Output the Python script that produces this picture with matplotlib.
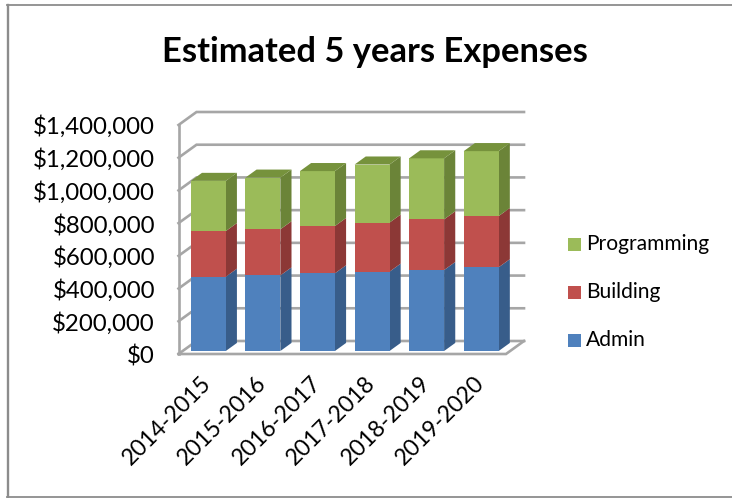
import matplotlib
matplotlib.use("Agg")
import matplotlib.pyplot as plt
from matplotlib.patches import Polygon
from matplotlib.transforms import ScaledTranslation

plt.rcParams["font.family"] = ["Lato", "DejaVu Sans"]

years = ["2014-2015", "2015-2016", "2016-2017", "2017-2018", "2018-2019", "2019-2020"]
admin = [454000, 462000, 475000, 485000, 495000, 512000]
building = [279000, 282000, 289000, 300000, 310000, 313000]
programming = [307000, 316000, 336000, 355000, 373000, 397000]
series_names = ["Admin", "Building", "Programming"]
y_ticks = [0, 200000, 400000, 600000, 800000, 1000000, 1200000, 1400000]

front_colors = ["#4f81bd", "#c0504d", "#9bbb59"]
side_colors = ["#385d8a", "#8c3836", "#6b8438"]
top_colors = ["#3f6797", "#9a403e", "#76923c"]
GRID = "#a6a6a6"

W, H = 732, 498
fig = plt.figure(figsize=(W / 100, H / 100), dpi=100)
fig.patch.set_facecolor("white")

# Chart frame: top and bottom edges, plus a heavier left edge
for y_px in (5.5, 497):
    fig.add_artist(plt.Line2D([7 / W, 1], [1 - y_px / H, 1 - y_px / H], color="#8c8c8c",
                              linewidth=1.3, transform=fig.transFigure))
fig.add_artist(plt.Line2D([8 / W, 8 / W], [1 - 5 / H, 1 - 497.5 / H], color="#8c8c8c",
                          linewidth=1.7, transform=fig.transFigure))

# Axes rectangle is the front plane of the pseudo-3D box
left, right, bottom, top = 178.5, 506.0, 354.0, 125.0
ax = fig.add_axes([left / W, 1 - bottom / H, (right - left) / W, (bottom - top) / H])
ax.set_xlim(0, len(years))
ax.set_ylim(0, 1400000)
ax.patch.set_alpha(0)
for s in ax.spines.values():
    s.set_visible(False)

px_x = len(years) / (right - left)
px_y = 1400000 / (bottom - top)
DEPTH_X, DEPTH_Y = 18 * px_x, 13 * px_y


def at_depth(x, y, d):
    return (x + d * DEPTH_X, y + d * DEPTH_Y)


# Walls and floor
lw = 1.9
for v in y_ticks:
    ax.plot(*zip(at_depth(0, v, 0), at_depth(0, v, 1), at_depth(len(years), v, 1)),
            color=GRID, lw=lw, clip_on=False, solid_joinstyle="miter", zorder=1)
ax.plot(*zip(at_depth(0, 0, 0), at_depth(0, 1400000, 0)), color=GRID, lw=lw, clip_on=False, zorder=1)
ax.plot(*zip(at_depth(0, 0, 0), at_depth(len(years), 0, 0), at_depth(len(years), 0, 1)),
        color=GRID, lw=lw, clip_on=False, solid_joinstyle="miter", zorder=1)

# Stacked prisms
BAR_START, BAR_W = 0.15, 0.64
D0, D1 = 0.23, 0.85
for i in range(len(years)):
    base = 0
    x0 = i + BAR_START
    x1 = x0 + BAR_W
    for k, values in enumerate([admin, building, programming]):
        t = base + values[i]
        ax.add_patch(Polygon([at_depth(x1, base, D0), at_depth(x1, base, D1),
                              at_depth(x1, t, D1), at_depth(x1, t, D0)],
                             facecolor=side_colors[k], edgecolor="none", clip_on=False, zorder=3))
        ax.add_patch(Polygon([at_depth(x0, base, D0), at_depth(x1, base, D0),
                              at_depth(x1, t, D0), at_depth(x0, t, D0)],
                             facecolor=front_colors[k], edgecolor="none", clip_on=False, zorder=3))
        base = t
    ax.add_patch(Polygon([at_depth(x0, base, D0), at_depth(x1, base, D0),
                          at_depth(x1, base, D1), at_depth(x0, base, D1)],
                         facecolor=top_colors[2], edgecolor="none", clip_on=False, zorder=3))

# Value axis labels
ax.set_yticks(y_ticks)
ax.set_yticklabels([f"${v:,}" for v in y_ticks], fontsize=17.3, color="black")
ax.tick_params(axis="y", length=0, pad=17)

# Category labels, nudged left of their slots
ax.set_xticks([i + 0.5 for i in range(len(years))])
ax.set_xticklabels(years, fontsize=16.6, rotation=45, ha="right", rotation_mode="anchor", color="black")
ax.tick_params(axis="x", length=0, pad=13)
nudge = ScaledTranslation(-5 / 100, 0, fig.dpi_scale_trans)
for lab in ax.get_xticklabels():
    lab.set_transform(lab.get_transform() + nudge)

fig.text(374.5 / W, 1 - 52 / H, "Estimated 5 years Expenses", fontsize=24.8, fontweight="bold",
         ha="center", va="center", color="black")

# Legend, top entry last in the stack
legend_y = [244, 292, 340]
legend_names = series_names[::-1]
legend_colors = front_colors[::-1]
for y, name, col in zip(legend_y, legend_names, legend_colors):
    fig.add_artist(plt.Rectangle((568 / W, 1 - (y + 6.5) / H), 13 / W, 13 / H,
                                 facecolor=col, edgecolor="none", transform=fig.transFigure))
    fig.text(586 / W, 1 - y / H, name, fontsize=15.1, va="center", ha="left", color="black")

fig.savefig("out.png", dpi=100)
